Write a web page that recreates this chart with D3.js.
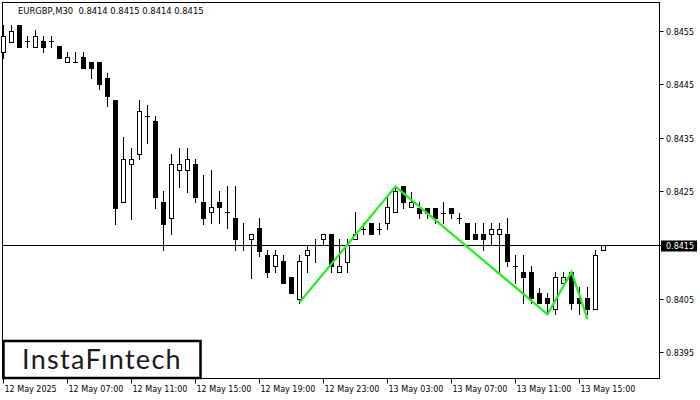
<!DOCTYPE html>
<html><head><meta charset="utf-8">
<script src="https://cdn.jsdelivr.net/npm/d3@7"></script>
<style>html,body{margin:0;padding:0;background:#fff;}svg{display:block;}</style>
</head><body>
<script>
const openV = [
0.84509,0.84529,0.84560,0.84530,0.84520,0.84530,0.84530,0.84521,0.84491,0.84491,
0.84500,0.84491,0.84491,0.84461,0.84420,0.84230,0.84301,0.84319,0.84391,0.84381,
0.84230,0.84200,0.84289,0.84289,0.84301,0.84230,0.84211,0.84230,0.84211,0.84200,
0.84150,0.84161,0.84181,0.84131,0.84110,0.84120,0.84090,0.84050,0.84131,0.84150,
0.84161,0.84170,0.84100,0.84119,0.84161,0.84180,0.84191,0.84180,0.84191,0.84211,
0.84260,0.84220,0.84219,0.84219,0.84219,0.84210,0.84219,0.84200,0.84191,0.84170,
0.84170,0.84170,0.84170,0.84170,0.84110,0.84100,0.84100,0.84060,0.84051,0.84030,
0.84080,0.84100,0.84051,0.84051,0.84030,0.84141];
const closeV = [
0.84540,0.84550,0.84520,0.84530,0.84540,0.84520,0.84530,0.84499,0.84500,0.84491,
0.84480,0.84480,0.84450,0.84428,0.84219,0.84310,0.84310,0.84399,0.84391,0.84240,
0.84190,0.84301,0.84301,0.84310,0.84240,0.84200,0.84220,0.84220,0.84211,0.84161,
0.84150,0.84170,0.84139,0.84100,0.84131,0.84080,0.84060,0.84120,0.84141,0.84150,
0.84170,0.84110,0.84110,0.84150,0.84170,0.84180,0.84170,0.84180,0.84220,0.84251,
0.84230,0.84230,0.84210,0.84210,0.84200,0.84210,0.84210,0.84200,0.84161,0.84161,
0.84161,0.84180,0.84180,0.84120,0.84110,0.84090,0.84051,0.84041,0.84041,0.84090,
0.84090,0.84041,0.84041,0.84030,0.84131,0.84150];
const highV = [
0.84560,0.84560,0.84560,0.84540,0.84551,0.84540,0.84540,0.84521,0.84510,0.84510,
0.84510,0.84491,0.84491,0.84471,0.84420,0.84351,0.84330,0.84420,0.84411,0.84391,
0.84251,0.84319,0.84330,0.84330,0.84310,0.84281,0.84290,0.84251,0.84260,0.84260,
0.84191,0.84170,0.84200,0.84141,0.84141,0.84131,0.84090,0.84131,0.84150,0.84161,
0.84170,0.84170,0.84161,0.84161,0.84212,0.84191,0.84191,0.84191,0.84240,0.84260,
0.84260,0.84249,0.84230,0.84219,0.84219,0.84230,0.84219,0.84210,0.84191,0.84191,
0.84191,0.84191,0.84191,0.84200,0.84131,0.84131,0.84110,0.84070,0.84060,0.84100,
0.84100,0.84100,0.84071,0.84071,0.84141,0.84150];
const lowV = [
0.84499,0.84529,0.84520,0.84520,0.84520,0.84509,0.84520,0.84499,0.84491,0.84491,
0.84480,0.84461,0.84440,0.84410,0.84190,0.84230,0.84199,0.84310,0.84340,0.84219,
0.84140,0.84170,0.84259,0.84249,0.84230,0.84190,0.84191,0.84191,0.84181,0.84141,
0.84140,0.84089,0.84130,0.84090,0.84100,0.84080,0.84060,0.84041,0.84100,0.84119,
0.84150,0.84100,0.84100,0.84100,0.84161,0.84170,0.84170,0.84170,0.84180,0.84211,
0.84219,0.84220,0.84200,0.84200,0.84191,0.84191,0.84200,0.84191,0.84161,0.84161,
0.84141,0.84150,0.84100,0.84110,0.84080,0.84041,0.84041,0.84041,0.84021,0.84021,
0.84080,0.84030,0.84021,0.84021,0.84030,0.84141];
const patternIdx = [37, 49, 68, 71, 73];
const patternPrice = [0.84043, 0.84259, 0.84021, 0.84100, 0.84012];
const yTicks = [0.8395, 0.8405, 0.8415, 0.8425, 0.8435, 0.8445, 0.8455];
const xTickIdx = [0, 8, 16, 24, 32, 40, 48, 56, 64, 72];
const xTickLabels = ["12 May 2025","12 May 07:00","12 May 11:00","12 May 15:00","12 May 19:00","12 May 23:00","13 May 03:00","13 May 07:00","13 May 11:00","13 May 15:00"];
const currentPrice = 0.8415;
const titleText = "EURGBP,M30  0.8414 0.8415 0.8414 0.8415";
const logoText = "InstaF\u0131ntech";

const W = 700, H = 400;
const L = 2.5, R = 659.5, T = 2.5, B = 378.5;
const svg = d3.select("body").append("svg").attr("width", W).attr("height", H);
const x = d3.scaleLinear().domain([0, 75]).range([3, 603]);
const y = d3.scaleLinear().domain([0.8395, 0.8455]).range([352.3, 30.5]);
const font = "'DejaVu Sans', sans-serif";

// frame
svg.append("rect").attr("x", L).attr("y", T).attr("width", R - L).attr("height", B - T)
  .attr("fill", "none").attr("stroke", "#000").attr("stroke-width", 1);

// current price line
const cy = Math.round(y(currentPrice)) + 0.5;
svg.append("line").attr("x1", L).attr("x2", R).attr("y1", cy).attr("y2", cy)
  .attr("stroke", "#000").attr("stroke-width", 1);

// candles
const data = openV.map((o, i) => ({i, o, c: closeV[i], h: highV[i], l: lowV[i]}));
const g = svg.append("g").attr("shape-rendering", "crispEdges");
data.forEach(d => {
  const cx = Math.round(x(d.i));
  const yh = Math.round(y(d.h)), yl = Math.round(y(d.l));
  const yTop = Math.round(y(Math.max(d.o, d.c))), yBot = Math.round(y(Math.min(d.o, d.c)));
  g.append("line").attr("x1", cx + 0.5).attr("x2", cx + 0.5).attr("y1", yh).attr("y2", yl + 1)
    .attr("stroke", "#000").attr("stroke-width", 1);
  if (d.c > d.o) {
    g.append("rect").attr("x", cx - 1.5).attr("y", yTop + 0.5).attr("width", 4).attr("height", Math.max(yBot - yTop, 1))
      .attr("fill", "#fff").attr("stroke", "#000").attr("stroke-width", 1);
  } else if (d.c < d.o) {
    g.append("rect").attr("x", cx - 2).attr("y", yTop).attr("width", 5).attr("height", Math.max(yBot - yTop + 1, 1))
      .attr("fill", "#000");
  } else {
    g.append("line").attr("x1", cx - 2).attr("x2", cx + 3).attr("y1", yTop + 0.5).attr("y2", yTop + 0.5)
      .attr("stroke", "#000").attr("stroke-width", 1);
  }
});

// pattern line
const line = d3.line().x(d => x(d[0]) + 0.5).y(d => y(d[1]));
svg.append("path").datum(patternIdx.map((v, k) => [v, patternPrice[k]]))
  .attr("d", line).attr("fill", "none").attr("stroke", "#22ee22").attr("stroke-width", 2.2)
  .attr("stroke-linejoin", "miter");

// y axis ticks and labels
yTicks.forEach(t => {
  const ty = Math.round(y(t)) + 0.5;
  svg.append("line").attr("x1", R).attr("x2", R + 4).attr("y1", ty).attr("y2", ty).attr("stroke", "#000");
  svg.append("text").attr("x", 666).attr("y", ty + 3).text(t.toFixed(4))
    .attr("font-family", font).attr("font-size", 8).attr("fill", "#000");
});

// current price label
svg.append("rect").attr("x", 661).attr("y", cy - 5).attr("width", 36).attr("height", 11).attr("fill", "#000");
svg.append("text").attr("x", 666).attr("y", cy + 3).text(currentPrice.toFixed(4))
  .attr("font-family", font).attr("font-size", 8).attr("fill", "#fff");

// x axis ticks and labels
xTickIdx.forEach((t, k) => {
  const tx = Math.round(x(t)) + 0.5;
  svg.append("line").attr("x1", tx).attr("x2", tx).attr("y1", B).attr("y2", B + 5).attr("stroke", "#000");
  svg.append("text").attr("x", tx + 1).attr("y", 392).text(xTickLabels[k])
    .attr("font-family", font).attr("font-size", 8).attr("fill", "#000");
});

// title
svg.append("text").attr("x", 18).attr("y", 13.5).text(titleText).attr("xml:space", "preserve")
  .style("white-space", "pre")
  .attr("font-family", font).attr("font-size", 8.4).attr("fill", "#000");

// logo
svg.append("rect").attr("x", 3.5).attr("y", 341).attr("width", 197).attr("height", 37)
  .attr("fill", "#fff").attr("stroke", "#000").attr("stroke-width", 2.5);
svg.append("text").attr("x", 102).attr("y", 368.5).attr("text-anchor", "middle").text(logoText)
  .attr("font-family", "Lato, 'Open Sans', sans-serif").attr("font-size", 27)
  .attr("letter-spacing", 1.3).attr("fill", "#1a1a1a");
</script>
</body></html>
